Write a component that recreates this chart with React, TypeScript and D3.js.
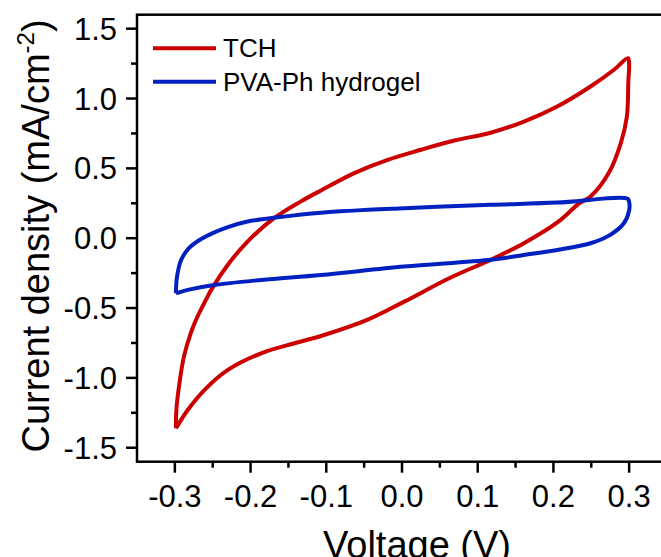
import React, { useEffect, useRef } from "react";
import * as d3 from "d3";

// TCH loop (V, mA/cm^2), in sweep order
const tchVoltage = [-0.2985, -0.298, -0.294, -0.288, -0.279, -0.272, -0.259, -0.252, -0.23, -0.204, -0.169, -0.134, -0.107, -0.063, -0.019, 0.025, 0.069, 0.117, 0.161, 0.205, 0.249, 0.28, 0.2985, 0.3, 0.299, 0.297, 0.289, 0.273, 0.249, 0.234, 0.207, 0.161, 0.117, 0.065, 0.003, -0.046, -0.107, -0.142, -0.186, -0.23, -0.261, -0.283, -0.2985];
const tchCurrent = [-1.361, -1.23, -1.04, -0.848, -0.68, -0.584, -0.442, -0.37, -0.19, -0.024, 0.143, 0.262, 0.342, 0.466, 0.561, 0.633, 0.699, 0.755, 0.835, 0.943, 1.086, 1.206, 1.289, 1.24, 1.13, 0.871, 0.681, 0.466, 0.298, 0.25, 0.12, -0.036, -0.155, -0.28, -0.454, -0.585, -0.7, -0.752, -0.824, -0.943, -1.087, -1.23, -1.361];

// PVA-Ph hydrogel loop
const pvaVoltage = [-0.2985, -0.2975, -0.292, -0.282, -0.268, -0.25, -0.23, -0.204, -0.164, -0.107, 0.003, 0.117, 0.205, 0.298, 0.3, 0.3, 0.293, 0.275, 0.249, 0.205, 0.161, 0.117, 0.003, -0.107, -0.186, -0.248, -0.283, -0.2985];
const pvaCurrent = [-0.394, -0.29, -0.16, -0.075, -0.015, 0.036, 0.079, 0.119, 0.15, 0.183, 0.215, 0.239, 0.255, 0.282, 0.26, 0.2, 0.107, 0.024, -0.036, -0.084, -0.12, -0.155, -0.203, -0.263, -0.299, -0.335, -0.37, -0.394];

const xTicks = [-0.3, -0.2, -0.1, 0.0, 0.1, 0.2, 0.3];
const xMinor = [-0.25, -0.15, -0.05, 0.05, 0.15, 0.25];
const yTicks = [-1.5, -1.0, -0.5, 0.0, 0.5, 1.0, 1.5];
const yMinor = [-1.25, -0.75, -0.25, 0.25, 0.75, 1.25];

const seriesNames = ["TCH", "PVA-Ph hydrogel"];
const seriesColors = ["#CC0000", "#0020C0"];

const W = 661, H = 557;
const left = 137, right = 667, top = 14.7, bottom = 461.7;
const font = "'Liberation Sans', Arial, sans-serif";

export default function App() {
  const ref = useRef<SVGSVGElement>(null);

  useEffect(() => {
    const svg = d3.select(ref.current);
    svg.selectAll("*").remove();

    const x = d3.scaleLinear().domain([-0.35, 0.35]).range([left, right]);
    const y = d3.scaleLinear().domain([-1.6, 1.6]).range([bottom, top]);
    const fmt = (d: number) => d.toFixed(1);

    const line = d3.line<[number, number]>()
      .x(d => x(d[0]))
      .y(d => y(d[1]))
      .curve(d3.curveCatmullRom.alpha(0.5));

    const series = [
      d3.zip(tchVoltage, tchCurrent) as [number, number][],
      d3.zip(pvaVoltage, pvaCurrent) as [number, number][],
    ];

    // curves
    svg.append("g")
      .selectAll("path")
      .data(series)
      .enter()
      .append("path")
      .attr("d", d => line(d))
      .attr("fill", "none")
      .attr("stroke", (d, i) => seriesColors[i])
      .attr("stroke-width", 4)
      .attr("stroke-linejoin", "round");

    // frame
    svg.append("rect")
      .attr("x", left).attr("y", top)
      .attr("width", right - left).attr("height", bottom - top)
      .attr("fill", "none").attr("stroke", "#000").attr("stroke-width", 2.5);

    const ax = svg.append("g").attr("stroke", "#000").attr("stroke-width", 2.5);
    // x ticks
    ax.selectAll(".xt").data(xTicks).enter().append("line")
      .attr("x1", d => x(d)).attr("x2", d => x(d))
      .attr("y1", bottom).attr("y2", bottom + 11);
    ax.selectAll(".xm").data(xMinor).enter().append("line")
      .attr("x1", d => x(d)).attr("x2", d => x(d))
      .attr("y1", bottom).attr("y2", bottom + 6);
    // y ticks
    ax.selectAll(".yt").data(yTicks).enter().append("line")
      .attr("y1", d => y(d)).attr("y2", d => y(d))
      .attr("x1", left).attr("x2", left - 11);
    ax.selectAll(".ym").data(yMinor).enter().append("line")
      .attr("y1", d => y(d)).attr("y2", d => y(d))
      .attr("x1", left).attr("x2", left - 6);

    // tick labels
    svg.append("g").selectAll("text").data(xTicks).enter().append("text")
      .attr("x", d => x(d)).attr("y", 507)
      .attr("text-anchor", "middle")
      .style("font-family", font).style("font-size", "31px")
      .text(fmt);
    svg.append("g").selectAll("text").data(yTicks).enter().append("text")
      .attr("x", 117).attr("y", d => y(d) + 11)
      .attr("text-anchor", "end")
      .style("font-family", font).style("font-size", "31px")
      .text(fmt);

    // axis titles
    svg.append("text")
      .attr("x", 417).attr("y", 558)
      .attr("text-anchor", "middle")
      .style("font-family", font).style("font-size", "38px")
      .text("Voltage (V)");

    const yt = svg.append("text")
      .attr("transform", `translate(48.5, 236) rotate(-90)`)
      .attr("text-anchor", "middle")
      .style("font-family", font).style("font-size", "38px");
    yt.append("tspan").text("Current density (mA/cm");
    yt.append("tspan").attr("dy", -15).style("font-size", "24px").text("-2");
    yt.append("tspan").attr("dy", 15).text(")");

    // legend
    const lg = svg.append("g")
      .selectAll("g")
      .data(seriesNames)
      .enter()
      .append("g")
      .attr("transform", (d, i) => `translate(0, ${48.3 + i * 33.4})`);
    lg.append("line")
      .attr("x1", 153).attr("x2", 216)
      .attr("stroke", (d, i) => seriesColors[i])
      .attr("stroke-width", 4);
    lg.append("text")
      .attr("x", 223).attr("y", 9)
      .style("font-family", font).style("font-size", "26px")
      .text(d => d);
  }, []);

  return (
    <svg ref={ref} width={W} height={H}
      style={{ position: "absolute", left: 0, top: 0, background: "#fff" }} />
  );
}
